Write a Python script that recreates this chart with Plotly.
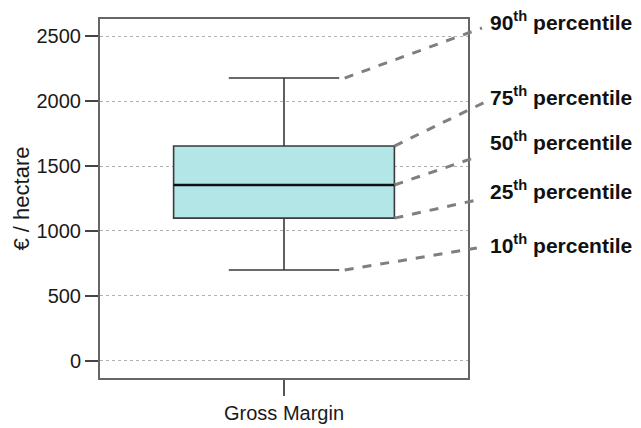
import plotly.graph_objects as go

# ---- data ----
category = ["Gross Margin"]
p10 = [699]
p25 = [1099]
p50 = [1354]
p75 = [1654]
p90 = [2178]
y_ticks = [0, 500, 1000, 1500, 2000, 2500]
label_texts = ["90<sup>th</sup> percentile", "75<sup>th</sup> percentile",
               "50<sup>th</sup> percentile", "25<sup>th</sup> percentile",
               "10<sup>th</sup> percentile"]
y_title = "€ / hectare"

FONT = "Liberation Sans, Arial, sans-serif"
TXT = "#1a1a1a"

y_min, y_max = -133, 2633

fig = go.Figure()
fig.add_trace(go.Box(
    x=category, q1=p25, median=p50, q3=p75,
    lowerfence=p10, upperfence=p90,
    width=0.6, whiskerwidth=0.5,
    fillcolor="#b3e6e7",
    line=dict(color="#3a3a3a", width=1.6),
    boxpoints=False, showlegend=False, hoverinfo="skip",
))

# thicker median line drawn over the box
fig.add_shape(type="line", xref="x", yref="y", x0=-0.3, x1=0.3,
              y0=p50[0], y1=p50[0], line=dict(color="#111111", width=2.6))

# leader lines & labels (x in paper units; y in data units at start)
values = [p90[0], p75[0], p50[0], p25[0], p10[0]]
start_x = [0.665, 0.8, 0.8, 0.8, 0.665]       # paper
end_x = [1.038, 1.057, 1.024, 1.024, 1.024]   # paper
end_y = [0.975, 0.774, 0.616, 0.496, 0.362]   # paper
label_y = [0.994, 0.786, 0.659, 0.524, 0.372]  # paper


def paper_to_y(p):
    return y_min + p * (y_max - y_min)


for v, sx, ex, ey in zip(values, start_x, end_x, end_y):
    fig.add_shape(type="line", xref="paper", yref="y",
                  x0=sx, y0=v, x1=ex, y1=paper_to_y(ey),
                  line=dict(color="#7f7f7f", width=3, dash="dash"))

for ly, t in zip(label_y, label_texts):
    fig.add_annotation(xref="paper", yref="paper", x=1.053, y=ly,
                       xanchor="left", yanchor="middle", showarrow=False,
                       text="<b>" + t + "</b>",
                       font=dict(family=FONT, size=21, color="#111111"))

# y-axis title as rotated annotation
fig.add_annotation(xref="paper", yref="paper", x=-0.212, y=0.5,
                   xanchor="center", yanchor="middle", showarrow=False,
                   textangle=-90, text=y_title,
                   font=dict(family=FONT, size=22, color=TXT))

# page body has an 8px default margin: shrink figure accordingly
fig.update_layout(
    width=633, height=420,
    margin=dict(l=92, r=173, t=11, b=50),
    paper_bgcolor="white", plot_bgcolor="white",
    font=dict(family=FONT, size=20, color=TXT),
)
fig.update_xaxes(
    range=[-0.5, 0.5], showline=True, linecolor="#666666", linewidth=2,
    mirror=True, ticks="outside", ticklen=16, tickwidth=2, tickcolor="#555555",
    showgrid=False, tickfont=dict(size=20, color=TXT), automargin=False,
)
fig.update_yaxes(
    range=[y_min, y_max], tickvals=y_ticks, ticktext=[str(t) for t in y_ticks],
    showline=True, linecolor="#666666", linewidth=2, mirror=True,
    ticks="outside", ticklen=13, tickwidth=2, tickcolor="#444444",
    showgrid=True, gridcolor="#b0b0b0", gridwidth=1, griddash="dot",
    zeroline=False, tickfont=dict(size=20, color=TXT), automargin=False,
)

fig.write_html("out.html")
